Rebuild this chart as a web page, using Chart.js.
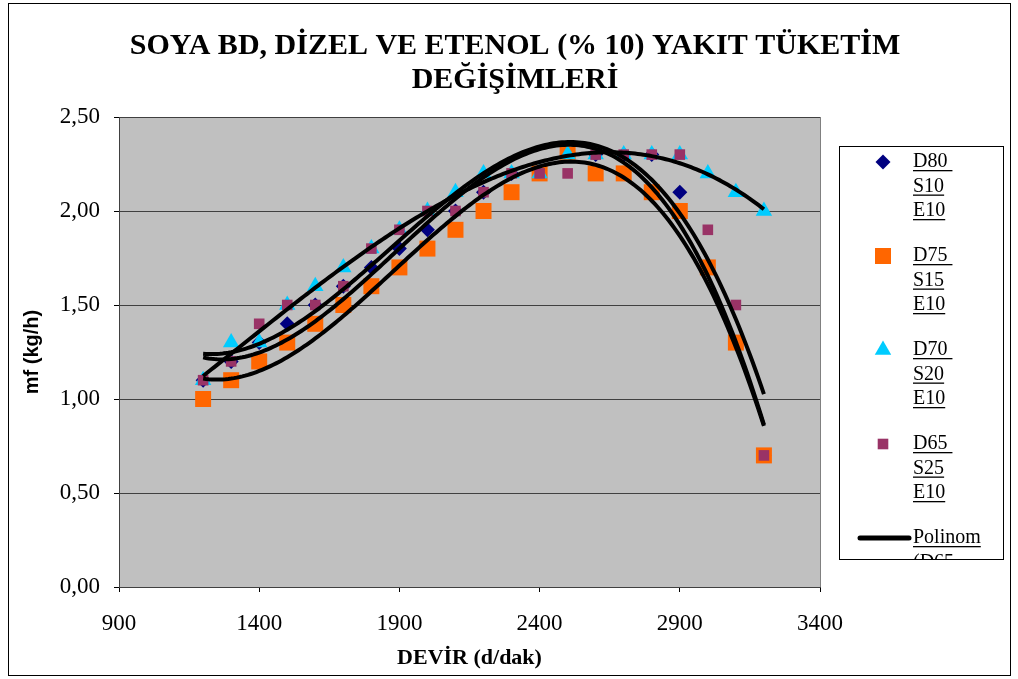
<!DOCTYPE html>
<html lang="tr">
<head>
<meta charset="UTF-8">
<title>Soya BD, dizel ve etenol yakıt tüketimi</title>
<script src="https://cdn.jsdelivr.net/npm/chart.js"></script>
<style>
    body { margin: 0; background: #fff; }
    #wrap { width: 1018px; height: 679px; }
</style>
</head>
<body>
<div id="wrap"><canvas id="chart" width="1018" height="679"></canvas></div>
<script>
// engine speed (d/dak)
const rpm = [1200, 1300, 1400, 1500, 1600, 1700, 1800, 1900, 2000, 2100, 2200,
             2300, 2400, 2500, 2600, 2700, 2800, 2900, 3000, 3100, 3200];

// fuel consumption mf (kg/h)
const d80 = [1.10, 1.20, 1.30, 1.40, 1.50, 1.60, 1.70, 1.80, 1.90, 2.00, 2.10,
             2.20, 2.20, 2.30, 2.30, 2.30, 2.30, 2.10, 1.70, 1.30, 0.70];
const d75 = [1.00, 1.10, 1.20, 1.30, 1.40, 1.50, 1.60, 1.70, 1.80, 1.90, 2.00,
             2.10, 2.20, 2.30, 2.20, 2.20, 2.10, 2.00, 1.70, 1.30, 0.70];
const d70 = [1.10, 1.30, 1.30, 1.50, 1.60, 1.70, 1.80, 1.90, 2.00, 2.10, 2.20,
             2.20, 2.20, 2.30, 2.30, 2.30, 2.30, 2.30, 2.20, 2.10, 2.00];
const d65 = [1.10, 1.20, 1.40, 1.50, 1.50, 1.60, 1.80, 1.90, 2.00, 2.00, 2.10,
             2.20, 2.20, 2.20, 2.30, 2.30, 2.30, 2.30, 1.90, 1.50, 0.70];

const seriesLabels = [['D80 ', 'S10', 'E10'], ['D75 ', 'S15', 'E10'],
                      ['D70 ', 'S20', 'E10'], ['D65 ', 'S25', 'E10']];
const trendLabel = ['Polinom', '(D65'];
const titleLines = ['SOYA BD, DİZEL VE ETENOL (% 10) YAKIT TÜKETİM', 'DEĞİŞİMLERİ'];
const xTicks = [900, 1400, 1900, 2400, 2900, 3400];
const yTicks = [0, 0.5, 1, 1.5, 2, 2.5];

const colors = ['#000080', '#ff6600', '#00ccff', '#993366'];
const styles = ['rectRot', 'rect', 'triangle', 'rect'];
const radii = [7.5, 11.3, 9.5, 7.5];

// least squares polynomial, like Excel's "Polinom" trendline
function polyFit(xs, ys, order) {
    const n = order + 1;
    const t = xs.map(x => (x - 2200) / 1000);
    const A = [], b = [];
    for (let i = 0; i < n; i++) {
        A.push([]);
        for (let j = 0; j < n; j++) {
            A[i].push(t.reduce((s, v) => s + Math.pow(v, i + j), 0));
        }
        b.push(t.reduce((s, v, k) => s + ys[k] * Math.pow(v, i), 0));
    }
    for (let c = 0; c < n; c++) {
        let p = c;
        for (let r = c + 1; r < n; r++) if (Math.abs(A[r][c]) > Math.abs(A[p][c])) p = r;
        [A[c], A[p]] = [A[p], A[c]];
        [b[c], b[p]] = [b[p], b[c]];
        for (let r = c + 1; r < n; r++) {
            const f = A[r][c] / A[c][c];
            for (let k = c; k < n; k++) A[r][k] -= f * A[c][k];
            b[r] -= f * b[c];
        }
    }
    const coef = new Array(n).fill(0);
    for (let r = n - 1; r >= 0; r--) {
        let s = b[r];
        for (let k = r + 1; k < n; k++) s -= A[r][k] * coef[k];
        coef[r] = s / A[r][r];
    }
    return x => {
        const v = (x - 2200) / 1000;
        return coef.reduce((s, c, i) => s + c * Math.pow(v, i), 0);
    };
}

function trend(ys) {
    const f = polyFit(rpm, ys, 3);
    const pts = [];
    for (let x = rpm[0]; x <= rpm[rpm.length - 1]; x += 10) pts.push({x: x, y: f(x)});
    return pts;
}

const allSeries = [d80, d75, d70, d65];

const datasets = [];
allSeries.forEach((ys, i) => {
    datasets.push({
        label: seriesLabels[i].join(' '),
        data: rpm.map((x, k) => ({x: x, y: ys[k]})),
        pointStyle: styles[i],
        pointRadius: radii[i],
        pointBackgroundColor: colors[i],
        pointBorderColor: colors[i],
        pointBorderWidth: 0,
        showLine: false,
        order: 4 - i
    });
});
allSeries.forEach((ys, i) => {
    datasets.push({
        label: 'Polinom ' + seriesLabels[i].join(' '),
        data: trend(ys),
        showLine: true,
        borderColor: '#000',
        borderWidth: 4,
        pointRadius: 0,
        tension: 0,
        order: 0
    });
});

function drawMarker(ctx, style, x, y, r, color) {
    ctx.fillStyle = color;
    ctx.beginPath();
    if (style === 'rectRot') {
        ctx.moveTo(x, y - r); ctx.lineTo(x + r, y); ctx.lineTo(x, y + r); ctx.lineTo(x - r, y);
    } else if (style === 'triangle') {
        ctx.moveTo(x, y - r); ctx.lineTo(x + r * 0.866, y + r / 2); ctx.lineTo(x - r * 0.866, y + r / 2);
    } else {
        const s = r * Math.SQRT1_2;
        ctx.rect(x - s, y - s, 2 * s, 2 * s);
    }
    ctx.closePath();
    ctx.fill();
}

function underlined(ctx, text, x, y) {
    ctx.fillText(text, x, y);
    const w = ctx.measureText(text).width;
    ctx.fillRect(x, y + 8, w, 1.3);
}

const decor = {
    id: 'decor',
    beforeDraw(chart) {
        const {ctx, chartArea: a} = chart;
        ctx.save();
        ctx.fillStyle = '#fff';
        ctx.fillRect(0, 0, chart.width, chart.height);
        ctx.strokeStyle = '#000';
        ctx.lineWidth = 1;
        ctx.strokeRect(8.5, 3.5, 1002, 672);
        ctx.fillStyle = '#c0c0c0';
        ctx.fillRect(a.left, a.top, a.right - a.left, a.bottom - a.top);
        ctx.strokeStyle = '#808080';
        ctx.strokeRect(a.left + 0.5, a.top + 0.5, a.right - a.left, a.bottom - a.top);

        ctx.fillStyle = '#000';
        ctx.font = 'bold 30px "Liberation Serif"';
        ctx.textAlign = 'center';
        ctx.textBaseline = 'middle';
        ctx.fillText(titleLines[0], 515, 46);
        ctx.fillText(titleLines[1], 515, 80);
        ctx.restore();
    },
    afterDraw(chart) {
        const ctx = chart.ctx;
        const bx = 839, by = 146, bw = 164, bh = 413;
        ctx.save();
        ctx.fillStyle = '#fff';
        ctx.fillRect(bx, by, bw, bh);
        ctx.strokeStyle = '#000';
        ctx.lineWidth = 1;
        ctx.strokeRect(bx + 0.5, by + 0.5, bw, bh);
        ctx.beginPath();
        ctx.rect(bx + 1, by + 1, bw - 1, bh - 1);
        ctx.clip();

        ctx.font = '20px "Liberation Serif"';
        ctx.textAlign = 'left';
        ctx.textBaseline = 'middle';
        seriesLabels.forEach((lines, i) => {
            const y0 = 162 + i * 94;
            drawMarker(ctx, styles[i], 883, y0, radii[i], colors[i]);
            ctx.fillStyle = '#000';
            lines.forEach((t, k) => underlined(ctx, t, 913, y0 + k * 24.5));
        });
        const yp = 538;
        ctx.strokeStyle = '#000';
        ctx.lineWidth = 5;
        ctx.lineCap = 'round';
        ctx.beginPath();
        ctx.moveTo(860, yp);
        ctx.lineTo(909, yp);
        ctx.stroke();
        ctx.fillStyle = '#000';
        trendLabel.forEach((t, k) => underlined(ctx, t, 913, yp + k * 24.5));
        ctx.restore();
    }
};

new Chart(document.getElementById('chart'), {
    type: 'scatter',
    data: {datasets: datasets},
    options: {
        responsive: false,
        animation: false,
        events: [],
        layout: {padding: {left: 10, right: 198, top: 117, bottom: 0}},
        plugins: {legend: {display: false}, tooltip: {enabled: false}},
        scales: {
            x: {
                type: 'linear',
                min: xTicks[0],
                max: xTicks[xTicks.length - 1],
                afterFit: s => { s.height = 92; },
                afterBuildTicks: s => { s.ticks = xTicks.map(v => ({value: v})); },
                ticks: {
                    callback: v => String(v),
                    color: '#000',
                    padding: 18,
                    font: {family: 'Liberation Serif', size: 23}
                },
                grid: {drawOnChartArea: false, drawTicks: true, tickLength: 5, tickColor: '#000'},
                border: {color: '#404040', width: 1},
                title: {
                    display: true,
                    text: 'DEVİR (d/dak)',
                    color: '#000',
                    padding: {top: 0, bottom: 7},
                    font: {family: 'Liberation Serif', size: 22, weight: 'bold'}
                }
            },
            y: {
                min: yTicks[0],
                max: yTicks[yTicks.length - 1],
                afterFit: s => { s.width = 109; },
                afterBuildTicks: s => { s.ticks = yTicks.map(v => ({value: v})); },
                ticks: {
                    callback: v => v.toFixed(2).replace('.', ','),
                    color: '#000',
                    padding: 14,
                    font: {family: 'Liberation Serif', size: 23}
                },
                grid: {color: '#404040', lineWidth: 1, drawTicks: true, tickLength: 5, tickColor: '#000'},
                border: {color: '#404040', width: 1},
                title: {
                    display: true,
                    text: 'mf (kg/h)',
                    color: '#000',
                    padding: {top: 10, bottom: 0},
                    font: {family: 'Liberation Sans', size: 20, weight: 'bold'}
                }
            }
        }
    },
    plugins: [decor]
});
</script>
</body>
</html>
